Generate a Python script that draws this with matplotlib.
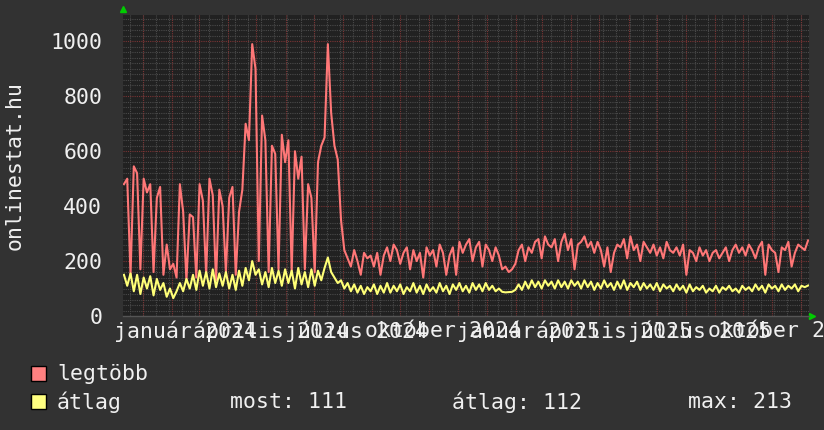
import datetime as dt
import matplotlib
matplotlib.use("Agg")
import matplotlib.pyplot as plt
from matplotlib.patches import Rectangle

# values, one point every 3.5 days from 2023-12-12
legtobb = [
    480, 500, 150, 545, 520, 170, 500, 450, 480, 160,
    430, 470, 150, 260, 170, 190, 140, 480, 380, 130,
    370, 360, 140, 480, 420, 150, 500, 440, 130, 460,
    400, 160, 430, 470, 150, 380, 460, 700, 640, 990,
    900, 200, 730, 640, 160, 620, 590, 170, 660, 560,
    640, 160, 600, 500, 580, 170, 480, 430, 160, 560,
    620, 650, 990, 740, 620, 570, 350, 240, 210, 180,
    240, 200, 150, 230, 210, 220, 180, 230, 150, 220,
    250, 200, 260, 240, 190, 230, 250, 170, 240, 200,
    230, 140, 250, 220, 240, 180, 260, 230, 150, 220,
    250, 150, 270, 230, 260, 280, 200, 250, 270, 180,
    260, 240, 200, 250, 220, 170, 180, 160, 170, 190,
    240, 260, 200, 250, 230, 270, 280, 210, 290, 260,
    250, 280, 200, 270, 300, 240, 280, 170, 260, 270,
    290, 250, 270, 230, 270, 240, 180, 250, 160, 230,
    260, 250, 280, 210, 290, 240, 260, 200, 270, 250,
    230, 260, 220, 250, 210, 270, 240, 230, 250, 220,
    260, 150, 240, 230, 200, 250, 220, 240, 200, 230,
    240, 210, 230, 250, 200, 240, 260, 230, 250, 220,
    260, 240, 210, 250, 270, 150, 260, 240, 230, 160,
    250, 240, 270, 180, 230, 260, 250, 240, 275,
]
atlag = [
    150, 110, 155, 90, 150, 80, 140, 100, 145, 75,
    135, 95, 120, 70, 100, 65, 90, 120, 90, 135,
    100, 150, 95, 165, 110, 160, 100, 170, 105, 155,
    110, 160, 100, 150, 95, 165, 110, 175, 130, 200,
    150, 170, 115, 160, 105, 175, 120, 165, 110, 170,
    120, 165, 100, 175, 115, 160, 105, 170, 110, 165,
    130, 175, 213, 160, 140, 120, 130, 100, 120, 90,
    115, 85, 110, 80, 105, 90, 115, 80, 110, 85,
    120, 85, 110, 90, 115, 80, 105, 90, 120, 85,
    110, 80, 115, 90, 105, 85, 120, 90, 110, 80,
    115, 95, 120, 90, 110, 85, 120, 95, 115, 90,
    120, 95, 110, 90, 100, 88, 86, 87, 88, 95,
    115, 95, 125, 100, 130, 105, 125, 100, 130, 110,
    125, 100, 130, 105, 125, 100, 130, 110, 125, 100,
    130, 105, 125, 95, 120, 100, 130, 105, 120, 95,
    125, 100, 130, 95, 120, 105, 125, 95, 120, 100,
    115, 95, 120, 90, 115, 100, 110, 90, 115, 95,
    110, 85, 115, 90, 105, 95, 110, 85, 100, 90,
    110, 85, 105, 95, 110, 90, 100, 85, 110, 95,
    105, 90, 115, 95, 110, 85, 115, 100, 110, 90,
    115, 95, 110, 100, 115, 90, 110, 105, 111,
]

# x axis labels, one per quarter
label_months = [(2024, 1), (2024, 4), (2024, 7), (2024, 10),
                (2025, 1), (2025, 4), (2025, 7), (2025, 10)]
month_names = {1: "január", 4: "április", 7: "július", 10: "október"}
y_ticks = [0, 200, 400, 600, 800, 1000]
legend_stats = ["most: 111", "átlag: 112", "max: 213"]

BG = "#323232"
CANVAS = "#212121"
TXT = "#f0f0f0"
RED = "#ff7777"
YEL = "#ffff77"
FONT = "DejaVu Sans Mono"
FS = 15.5

start = dt.datetime(2023, 12, 12)
dates = [start + dt.timedelta(days=3.5 * i) for i in range(len(legtobb))]
x0 = dt.datetime(2023, 12, 11)
x1 = dt.datetime(2025, 12, 10)

fig = plt.figure(figsize=(8.24, 4.30), dpi=100, facecolor=BG)
ax = fig.add_axes([123 / 824, 114 / 430, 686 / 824, 301 / 430])
ax.set_facecolor(CANVAS)
ax.set_xlim(x0, x1)
ax.set_ylim(0, 1096)

# grid: grey dotted minor lines, red dotted major lines
dot = (0, (1, 1))
for v in range(20, 1096, 20):
    if v % 200 != 0:
        ax.axhline(v, color="#4a4a4a", lw=0.8, ls=dot, zorder=1)
d = dt.datetime(2023, 12, 18)
while d < x1:
    ax.axvline(d, color="#4a4a4a", lw=0.8, ls=dot, zorder=1)
    d += dt.timedelta(days=14)
for v in y_ticks[1:]:
    ax.axhline(v, color="#7a3434", lw=0.8, ls=dot, zorder=2)
for yr in (2024, 2025):
    for m in range(1, 13):
        ax.axvline(dt.datetime(yr, m, 1), color="#7a3434", lw=0.8, ls=dot, zorder=2)

# the two series
ax.plot(dates, legtobb, color=RED, lw=1.5, zorder=4)
ax.plot(dates, atlag, color=YEL, lw=1.5, zorder=5)

# y axis
ax.set_yticks(y_ticks)
ax.set_yticklabels([str(v) for v in y_ticks], family=FONT, fontsize=FS, color=TXT)
ax.tick_params(axis="y", length=0, pad=15)
ax.set_xticks([])
for s in ax.spines.values():
    s.set_visible(False)
ax.axhline(0, color="#555555", lw=1, zorder=6, clip_on=False)
fig.text(15 / 824, 265 / 430, "onlinestat.hu", rotation=90, ha="center", va="center",
         family=FONT, fontsize=FS, color=TXT)

# month + year labels, centred in the middle of each quarter
for yr, m in label_months:
    pos = dt.datetime(yr, m, 1) + dt.timedelta(days=45)
    ax.text(pos, -0.05, month_names[m] + " " + str(yr), transform=ax.get_xaxis_transform(),
            ha="center", va="center", family=FONT, fontsize=FS, color=TXT, clip_on=False)

# small green arrows at the axis ends
ax.plot([0], [1.02], marker="^", color="#00cc00", ms=5, transform=ax.transAxes, clip_on=False)
ax.plot([1.005], [0], marker=">", color="#00cc00", ms=5, transform=ax.transAxes, clip_on=False)

# legend below the graph
fig.add_artist(Rectangle((31 / 824, 49 / 430), 15 / 824, 15 / 430, transform=fig.transFigure,
                         facecolor="#ff8080", edgecolor="black", lw=1))
fig.add_artist(Rectangle((31 / 824, 21 / 430), 15 / 824, 15 / 430, transform=fig.transFigure,
                         facecolor="#ffff80", edgecolor="black", lw=1))
fig.text(57 / 824, 56 / 430, "legtöbb", family=FONT, fontsize=FS, color=TXT, va="center")
fig.text(57 / 824, 28 / 430, "átlag", family=FONT, fontsize=FS, color=TXT, va="center")
for xp, s in zip([230, 452, 688], legend_stats):
    fig.text(xp / 824, 28 / 430, s, family=FONT, fontsize=FS, color=TXT, va="center")

fig.savefig("out.png", dpi=100, facecolor=BG)
